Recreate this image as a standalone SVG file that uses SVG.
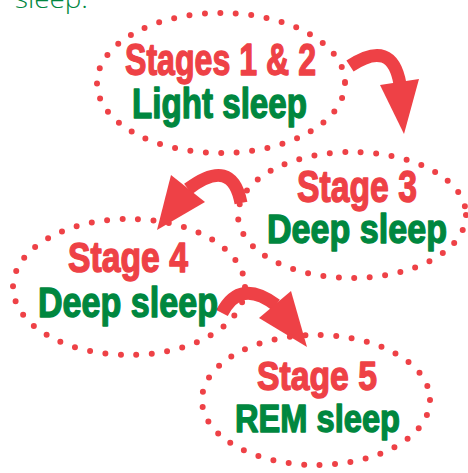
<svg xmlns="http://www.w3.org/2000/svg" width="468" height="473" viewBox="0 0 468 473">
<style>
.ring{fill:none;stroke:#EE4146;stroke-width:6;stroke-linecap:round;stroke-dasharray:0 15.5}
.t{font-family:"Liberation Sans",Arial,sans-serif;font-weight:bold;stroke-width:1.4;stroke-linejoin:round}
.r{fill:#EE4146;stroke:#EE4146}
.g{fill:#00873F;stroke:#00873F}
.shaft{fill:none;stroke:#EE4146;stroke-width:13}
.head{fill:#EE4146}
</style>
<rect width="468" height="473" fill="#fff"/>
<text x="15" y="8" font-family="'Open Sans','Liberation Sans',sans-serif" font-weight="300" font-size="26" fill="#00873F" textLength="73" lengthAdjust="spacingAndGlyphs">sleep.</text>
<g id="connectors">
<path class="shaft" d="M350,66 Q392,38 400,84"/>
<polygon class="head" points="380,85 419,79 404,134"/>
<path class="shaft" d="M241,203 Q232,156 188,189"/>
<polygon class="head" points="171,175 205,202 157,230"/>
<path class="shaft" d="M222,313 Q240,278 276,305"/>
<polygon class="head" points="291,291 259,318 307,347"/>
</g>
<g id="stage12">
<ellipse class="ring" cx="221" cy="83" rx="124" ry="70"/>
<text class="t r" x="125" y="75" font-size="45" textLength="191" lengthAdjust="spacingAndGlyphs">Stages 1 &amp; 2</text>
<text class="t g" x="132" y="118" font-size="42" textLength="175" lengthAdjust="spacingAndGlyphs">Light sleep</text>
</g>
<g id="stage3">
<ellipse class="ring" cx="352" cy="215" rx="114" ry="63"/>
<text class="t r" x="297" y="202" font-size="45" textLength="120" lengthAdjust="spacingAndGlyphs">Stage 3</text>
<text class="t g" x="267" y="243" font-size="41" textLength="180" lengthAdjust="spacingAndGlyphs">Deep sleep</text>
</g>
<g id="stage4">
<ellipse class="ring" cx="129" cy="287" rx="116" ry="68"/>
<text class="t r" x="68" y="272" font-size="42" textLength="120" lengthAdjust="spacingAndGlyphs">Stage 4</text>
<text class="t g" x="38" y="317" font-size="42" textLength="180" lengthAdjust="spacingAndGlyphs">Deep sleep</text>
</g>
<g id="stage5">
<ellipse class="ring" cx="316" cy="400" rx="114" ry="65"/>
<text class="t r" x="257" y="390" font-size="41" textLength="120" lengthAdjust="spacingAndGlyphs">Stage 5</text>
<text class="t g" x="235" y="432" font-size="39" textLength="165" lengthAdjust="spacingAndGlyphs">REM sleep</text>
</g>
</svg>
